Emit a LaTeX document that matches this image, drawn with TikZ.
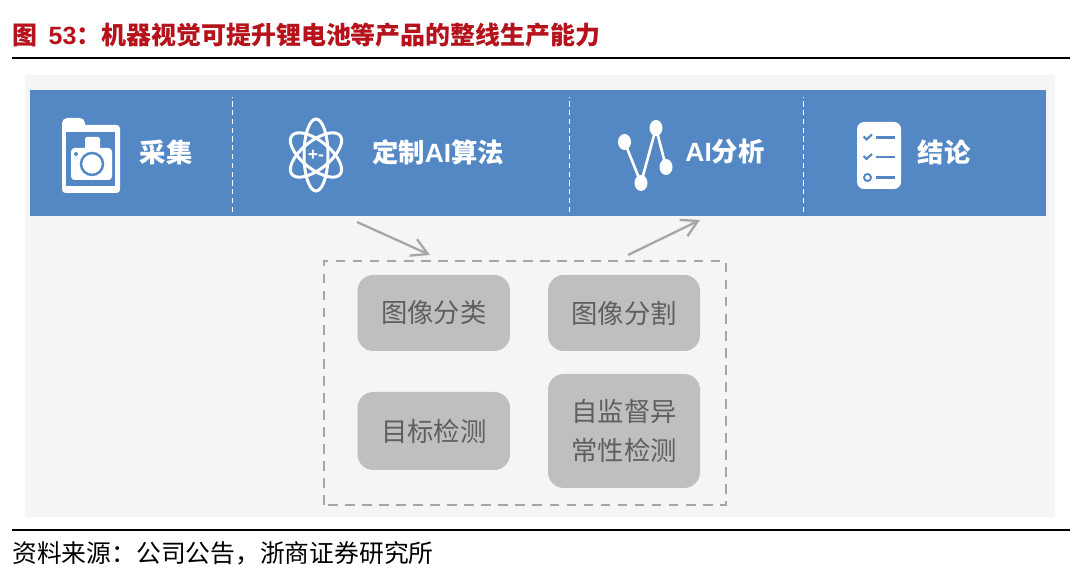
\documentclass[tikz,border=0pt]{standalone}
\usepackage{fontspec}
\usetikzlibrary{arrows.meta}
\setmainfont{Liberation Sans}
\newfontfamily\cjk{Noto Sans CJK SC}
\definecolor{Panel}{HTML}{F5F5F5}
\definecolor{BarBlue}{HTML}{5488C5}
\definecolor{TitleRed}{HTML}{B5121B}
\definecolor{CardGray}{HTML}{BFBFBF}
\definecolor{CardText}{HTML}{5F5F5F}
\definecolor{LineGray}{HTML}{A6A6A6}
\tikzset{
  cardbox/.style={fill=CardGray, rounded corners=9pt, text=CardText, align=center, inner sep=0pt, font=\cjk\fontsize{15}{22.7}\selectfont},
  barlabel/.style={text=white, font=\cjk\bfseries\fontsize{15}{18}\selectfont, inner sep=0pt},
  barsep/.style={white, densely dashed, line width=0.5pt},
  flowarrow/.style={LineGray, line width=1.3pt, -{Straight Barb[length=3.2mm,width=3.6mm]}},
  iconline/.style={white, line width=1.7pt}
}
\begin{document}
\begin{tikzpicture}[x=1cm,y=1cm]
\useasboundingbox (0,0) rectangle (21.6,11.5);
\fill[white] (0,0) rectangle (21.6,11.5);
% heading and source line
\node[anchor=west, inner sep=0pt, text=TitleRed, font=\cjk\bfseries\fontsize{14.2}{16}\selectfont] (title) at (0.24,10.8){图 \ {\normalfont\bfseries 53}：机器视觉可提升锂电池等产品的整线生产能力};
\draw[black, line width=0.8pt] (0.24,10.34) -- (21.4,10.34);
\draw[black, line width=0.8pt] (0.24,0.9) -- (21.4,0.9);
\node[anchor=west, inner sep=0pt, font=\cjk\fontsize{14.1}{16}\selectfont] (source) at (0.24,0.44){资料来源：公司公告，浙商证券研究所};
% panel and bar
\fill[Panel] (0.5,1.16) rectangle (21.1,10);
\fill[BarBlue] (0.6,7.18) rectangle (20.92,9.7);
\foreach \x in {4.64,11.38,16.06}{\draw[barsep] (\x,7.26) -- (\x,9.55);}
\node[barlabel] (collect) at (3.32,8.46){采集};
\node[barlabel] (algo) at (8.76,8.46){定制{\normalfont\bfseries AI}算法};
\node[barlabel] (analysis) at (14.5,8.46){{\normalfont\bfseries AI}分析};
\node[barlabel] (result) at (18.88,8.46){结论};
% camera icon
\fill[white, rounded corners=2pt] (1.24,7.64) rectangle (2.4,9);
\fill[white, rounded corners=3pt] (1.24,8.7) rectangle (1.7,9.14);
\fill[BarBlue] (1.32,7.78) rectangle (2.3,8.86);
\fill[white, rounded corners=2pt] (1.42,7.9) rectangle (2.24,8.54);
\fill[white, rounded corners=1pt] (1.7,8.4) rectangle (2,8.76);
\fill[BarBlue] (1.52,8.42) circle (0.04);
\draw[BarBlue, line width=1.4pt] (1.84,8.22) circle (0.22);
% atom icon
\begin{scope}[shift={(6.32,8.4)}, xscale=0.8]
\foreach \a in {0,60,120}{\draw[iconline, rotate=\a] (0,0) ellipse (0.3 and 0.72);}
\end{scope}
\node[text=white, font=\bfseries\fontsize{10}{10}\selectfont, inner sep=0pt] (atomsign) at (6.32,8.4){+-};
% network icon
\coordinate (n1) at (12.49,8.66);
\coordinate (n2) at (13.12,8.94);
\coordinate (n3) at (13.32,8.16);
\coordinate (n4) at (12.82,7.84);
\draw[iconline, line width=1.5pt] (n1) -- (n4) -- (n2) -- (n3);
\foreach \p in {n1,n2,n3,n4}{\fill[white] (\p) ellipse (0.13 and 0.16);}
% checklist icon
\fill[white, rounded corners=4pt] (17.14,7.72) rectangle (18.02,9.06);
\foreach \y in {8.75,8.36,7.95}{\draw[BarBlue, line width=1.6pt] (17.52,\y) -- (17.9,\y);}
\foreach \y in {8.75,8.36}{\draw[BarBlue, line width=1.2pt] (17.27,\y+0.02) -- (17.33,\y-0.04) -- (17.44,\y+0.06);}
\draw[BarBlue, line width=1.1pt] (17.35,7.95) circle (0.07);
% dashed frame and cards
\draw[LineGray, line width=1.4pt, dash pattern=on 5.5pt off 4.2pt] (6.48,1.4) rectangle (14.52,6.28);
\node[cardbox, minimum width=3.05cm, minimum height=1.52cm] (classify) at (8.675,5.24){图像分类};
\node[cardbox, minimum width=3.04cm, minimum height=1.52cm] (segment) at (12.48,5.24){图像分割};
\node[cardbox, minimum width=3.05cm, minimum height=1.56cm] (detect) at (8.675,2.88){目标检测};
\node[cardbox, minimum width=3.04cm, minimum height=2.28cm] (anomaly) at (12.48,2.88){自监督异\\常性检测};
% arrows
\coordinate (inA) at (7.14,7.06);
\coordinate (inB) at (8.6,6.4);
\coordinate (outA) at (12.56,6.4);
\coordinate (outB) at (14,7.1);
\draw[flowarrow] (inA) -- (inB);
\draw[flowarrow] (outA) -- (outB);
\end{tikzpicture}
\end{document}
